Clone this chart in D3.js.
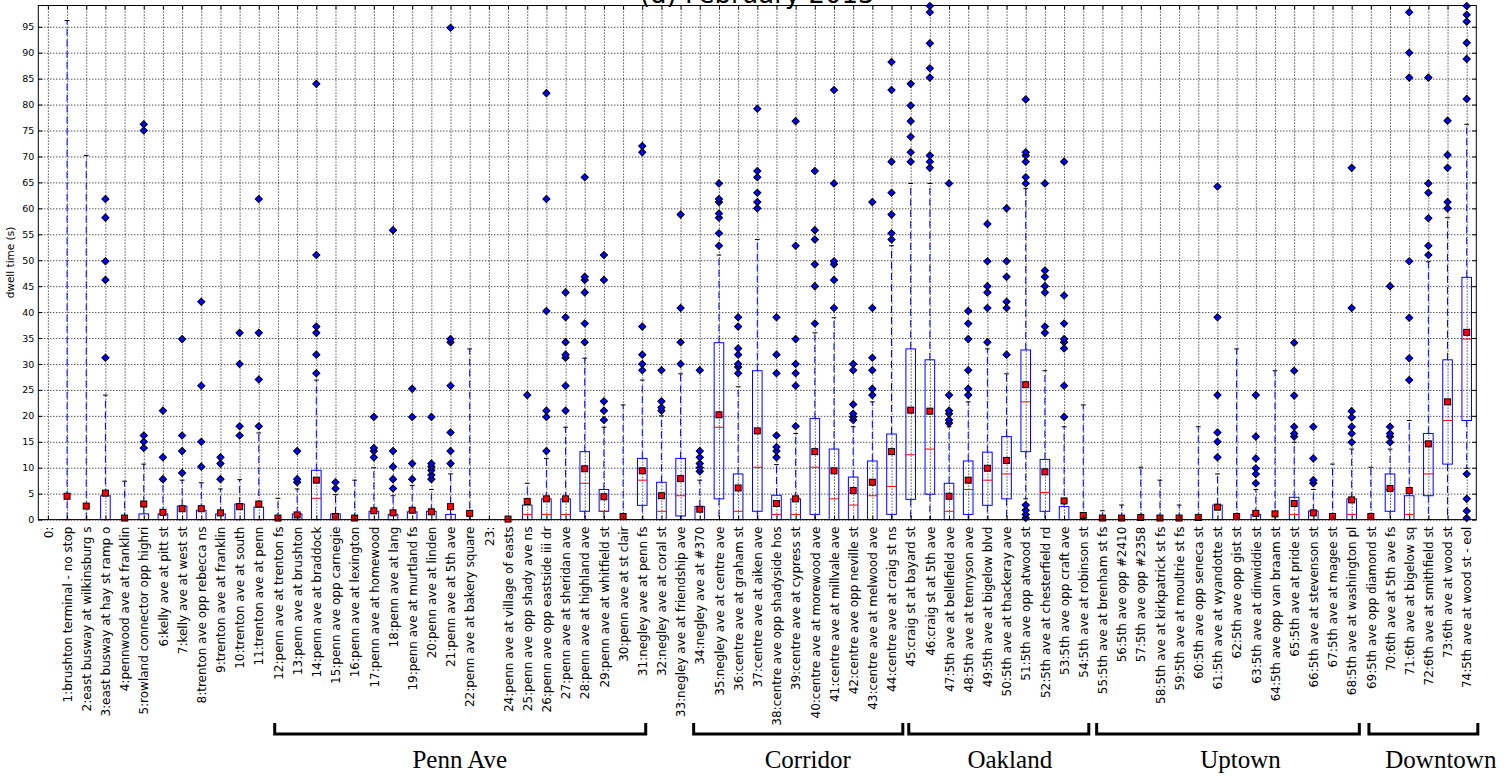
<!DOCTYPE html>
<html>
<head>
<meta charset="utf-8">
<script src="https://cdn.jsdelivr.net/npm/d3@7"></script>
<style>
body { margin: 0; background: #fff; }
text { font-family: "DejaVu Sans", sans-serif; }
</style>
</head>
<body>
<div id="chart"></div>
<script>
const stopLabels = [
    "0:", "1:brushton terminal - no stop", "2:east busway at wilkinsburg s", "3:east busway at hay st ramp o",
    "4:pennwood ave at franklin", "5:rowland connector opp highri", "6:kelly ave at pitt st", "7:kelly ave at west st",
    "8:trenton ave opp rebecca ns", "9:trenton ave at franklin", "10:trenton ave at south", "11:trenton ave at penn",
    "12:penn ave at trenton fs", "13:penn ave at brushton", "14:penn ave at braddock", "15:penn ave opp carnegie",
    "16:penn ave at lexington", "17:penn ave at homewood", "18:penn ave at lang", "19:penn ave at murtland fs",
    "20:penn ave at linden", "21:penn ave at 5th ave", "22:penn ave at bakery square", "23:",
    "24:penn ave at village of easts", "25:penn ave opp shady ave ns", "26:penn ave opp eastside iii dr", "27:penn ave at sheridan ave",
    "28:penn ave at highland ave", "29:penn ave at whitfield st", "30:penn ave at st clair", "31:negley ave at penn fs",
    "32:negley ave at coral st", "33:negley ave at friendship ave", "34:negley ave at #370", "35:negley ave at centre ave",
    "36:centre ave at graham st", "37:centre ave at aiken ave", "38:centre ave opp shadyside hos", "39:centre ave at cypress st",
    "40:centre ave at morewood ave", "41:centre ave at millvale ave", "42:centre ave opp neville st", "43:centre ave at melwood ave",
    "44:centre ave at craig st ns", "45:craig st at bayard st", "46:craig st at 5th ave", "47:5th ave at bellefield ave",
    "48:5th ave at tennyson ave", "49:5th ave at bigelow blvd", "50:5th ave at thackeray ave", "51:5th ave opp atwood st",
    "52:5th ave at chesterfield rd", "53:5th ave opp craft ave", "54:5th ave at robinson st", "55:5th ave at brenham st fs",
    "56:5th ave opp #2410", "57:5th ave opp #2358", "58:5th ave at kirkpatrick st fs", "59:5th ave at moultrie st fs",
    "60:5th ave opp seneca st", "61:5th ave at wyandotte st", "62:5th ave opp gist st", "63:5th ave at dinwiddie st",
    "64:5th ave opp van braam st", "65:5th ave at pride st", "66:5th ave at stevenson st", "67:5th ave at magee st",
    "68:5th ave at washington pl", "69:5th ave opp diamond st", "70:6th ave at 5th ave fs", "71:6th ave at bigelow sq",
    "72:6th ave at smithfield st", "73:6th ave at wood st", "74:5th ave at wood st - eol"
];

// box statistics per stop (null = no data)
const q1 = [null, 0, 0, 0, 0, 0, 0, 0, 0, 0, 0, 0, 0, 0, 0, 0, 0, 0, 0, 0, 0, 0, 0, null, 0, 0, 0, 0, 1.6, 1.6,
    0, 2.75, 0, 0.7, 0, 4.0, 0, 1.6, 0, 0, 1.0, 0, 0, 0, 1.0, 3.9, 4.9, 0, 1.0, 2.75, 4.0, 13.1, 1.6, 0, 0, 0, 0, 0, 0, 0,
    0, 0, 0, 0, 0, 0, 0, 0, 0, 0, 1.6, 0, 4.6, 10.7, 19.1];
const medians = [null, 0, 0, 0, 0, 0, 0, 0, 0, 0, 0, 0, 0, 0, 4.1, 0, 0, 0, 0, 0, 0, 0, 0, null, 0, 1.0, 1.0, 1.0, 7.0, 1.6,
    0, 7.6, 1.6, 4.6, 0, 17.8, 1.6, 10.1, 1.0, 1.0, 10.1, 4.0, 2.8, 4.6, 6.4, 12.5, 13.6, 1.6, 5.8, 7.6, 8.8, 22.7, 5.2, 0, 0, 0, 0, 0, 0, 0,
    0, 0, 0, 0, 0, 1.0, 0, 0, 1.0, 0, 5.8, 1.0, 8.8, 19.1, 34.8];
const q3 = [null, 0, 0, 4.6, 0, 1.1, 1.1, 2.6, 1.8, 1.1, 3.0, 2.4, 0, 1.1, 9.5, 1.1, 0, 1.6, 1.0, 1.5, 1.6, 1.0, 0, null, 0, 2.8, 4.0, 4.0, 13.1, 5.8,
    0, 11.8, 7.2, 11.8, 2.5, 34.1, 8.8, 28.7, 4.7, 4.0, 19.5, 13.6, 8.2, 11.3, 16.5, 32.9, 30.8, 7.0, 11.3, 13.0, 16.0, 32.7, 11.6, 2.5, 0, 0, 0, 0, 0, 0,
    0, 2.8, 0, 1.0, 0, 4.3, 1.65, 0, 4.0, 0, 8.8, 4.6, 16.6, 30.8, 46.7];
const whiskLow = [null, 0, 0, 0, 0, 0, 0, 0, 0, 0, 0, 0, 0, 0, 0, 0, 0, 0, 0, 0, 0, 0, 0, null, 0, 0, 0, 0, 0, 0,
    0, 0, 0, 0, 0, 0, 0, 0, 0, 0, 0, 0, 0, 0, 0, 0, 0, 0, 0, 0, 0, 4.0, 0, 0, 0, 0, 0, 0, 0, 0,
    0, 0, 0, 0, 0, 0, 0, 0, 0, 0, 0, 0, 0, 0, 9.9];
const whiskHigh = [null, 96.2, 70.2, 24, 7.4, 10.7, 7.4, 7.6, 7.1, 5.9, 7.7, 16.7, 4.1, 5.9, 26.9, 4.8, 7.6, 10, 4.6, 6.6, 5.8, 8.8, 32.9, null, 0, 7.0, 11.8, 17.8, 31.1, 17.8,
    22.1, 26.9, 20, 28.1, 7.6, 51, 25.6, 54, 10.6, 16.6, 36, 38.9, 17.9, 22.7, 52.8, 64.8, 64.8, 17.9, 22.7, 32.9, 28.1, 63.8, 28.7, 17.9, 22.1, 1.7, 2.8, 10.1, 7.6, 2.8,
    17.9, 8.8, 32.9, 5.8, 28.7, 14.9, 5.8, 10.7, 13.6, 10.1, 13.6, 19.1, 49.7, 58.2, 76.2];
const means = [null, 4.5, 2.6, 5.1, 0.3, 3.0, 1.4, 2.1, 2.1, 1.3, 2.5, 3.0, 0.3, 0.9, 7.6, 0.6, 0.3, 1.7, 1.3, 1.8, 1.5, 2.5, 1.2, null, 0.1, 3.5, 4.0, 4.0, 9.8, 4.4,
    0.6, 9.4, 4.6, 7.9, 2.0, 20.2, 6.1, 17.1, 3.1, 4.0, 13.1, 9.4, 5.6, 7.2, 13.1, 21.1, 20.9, 4.5, 7.6, 9.9, 11.4, 26.0, 9.2, 3.6, 0.8, 0.3, 0.3, 0.4, 0.3, 0.3,
    0.4, 2.4, 0.6, 1.2, 1.1, 3.1, 1.3, 0.6, 3.8, 0.6, 6.0, 5.6, 14.6, 22.7, 36.1];
const fliers = [
    [], [], [], [31.2, 46.2, 49.8, 58.2, 61.8], [], [13.8, 15, 16.2, 75, 76.2], [7.8, 12, 21], [9, 13.2, 16.2, 34.8],
    [10.2, 15, 25.8, 42], [7.8, 10.8, 12], [16.2, 18, 30, 36], [18, 27, 36, 61.8],
    [], [7.2, 7.8, 13.2], [28.2, 31.8, 36, 37.2, 51, 84], [6, 7.2],
    [], [12, 13.2, 13.8, 19.8], [6, 7.8, 10.2, 13.2, 55.8], [7.8, 10.8, 19.8, 25.2],
    [7.8, 8.6, 9.5, 10.2, 10.8, 19.8], [10.8, 13.2, 16.8, 25.8, 34.2, 34.8, 94.8], [], [],
    [], [24], [13.2, 19.8, 21, 40.2, 61.8, 82.2], [21, 25.8, 31.2, 31.8, 34.2, 39, 43.8],
    [34.2, 37.8, 43.8, 46.2, 46.8, 66], [19.2, 21, 22.8, 46.2, 51], [], [28.8, 30, 31.8, 37.2, 70.8, 72],
    [21, 21.6, 22.8, 28.8], [30, 34.2, 40.8, 58.8], [9.3, 10, 10.8, 12, 13.2, 28.8], [52.8, 55.2, 58.2, 59, 61.2, 61.8, 64.8],
    [28.2, 29.4, 30, 31.8, 33, 37.2, 39], [60, 61.2, 63, 66, 67.2, 79.2], [12, 13.2, 14, 16.2, 28.2, 31.8, 39], [18, 25.8, 28.2, 30, 34.8, 52.8, 76.8],
    [37.8, 45, 49.2, 54, 55.8, 67.2], [40.8, 46.2, 49.2, 49.8, 64.8, 82.8], [19.2, 19.8, 20.4, 22.2, 28.8, 30], [24, 25.2, 28.8, 31.2, 40.8, 61.2],
    [54, 55.2, 58.8, 63, 69, 82.8, 88.2], [69, 70.8, 73.8, 76.8, 79.8, 84], [67.8, 69, 70.2, 85.2, 87, 91.8, 97.8, 99], [18.6, 19.2, 20.4, 21, 24, 64.8],
    [24, 25.2, 28.8, 34.8, 37.8, 40.2], [34.2, 40.8, 43.8, 45, 49.8, 57], [31.8, 40.8, 42, 46.8, 49.8, 60], [0.3, 1.0, 1.8, 2.8, 64.8, 66, 69, 70.2, 70.8, 81],
    [36, 37.2, 43.8, 45, 46.8, 48, 64.8], [19.8, 25.8, 33, 34.2, 34.8, 37.8, 43.2, 69], [], [],
    [], [], [], [],
    [], [12, 15, 16.8, 24, 39, 64.2], [], [7, 8.8, 9.9, 11.8, 16, 24],
    [], [16, 16.6, 17.9, 23.9, 28.7, 34.1], [7.0, 7.6, 11.8, 17.9], [],
    [14.9, 16.6, 17.9, 19.7, 20.9, 40.8, 67.8], [], [14.9, 16, 16.6, 17.9, 45], [26.9, 31.1, 38.9, 49.8, 85.2, 90, 97.8],
    [51, 52.8, 58.1, 63, 64.8, 85.2], [60, 61.2, 67.8, 70.3, 76.9], [0.3, 1.65, 4.0, 8.8, 81.1, 88.8, 91.9, 96, 97.3, 99]
];

const yTicks = d3.range(0, 100, 5);

// route sections drawn as brackets under the labels (in stop index units)
const groupNames = ["Penn Ave", "Corridor", "Oakland", "Uptown", "Downtown"];
const groupStart = [11.83, 33.68, 44.9, 54.7, 68.9];
const groupEnd = [31.18, 44.59, 54.29, 68.4, 74.58];
const groupLabelAt = [21.48, 39.63, 50.17, 62.2, 72.65];

const W = 1510, H = 778;
const margin = { top: 5.5, right: 33.7, bottom: 258.4, left: 38.3 };
const width = W - margin.left - margin.right;
const height = H - margin.top - margin.bottom;

const svgRoot = d3.select("#chart").append("svg")
    .attr("width", W)
    .attr("height", H);

const svg = svgRoot.append("g")
    .attr("transform", `translate(${margin.left},${margin.top})`);

const x = d3.scaleLinear().domain([-0.5, 74.5]).range([0, width]);
const y = d3.scaleLinear().domain([0, 99.1]).range([height, 0]);
const step = x(1) - x(0);
const boxW = step * 0.5;
const capW = step * 0.25;

// dotted grid
svg.append("g")
    .attr("class", "grid horizontal")
    .call(d3.axisLeft(y).tickValues(yTicks).tickSize(-width).tickFormat(""))
    .call(g => g.select(".domain").remove())
    .selectAll("line")
    .style("stroke", "#000")
    .style("stroke-width", 1)
    .style("stroke-dasharray", "1,2");

svg.append("g")
    .attr("class", "grid vertical")
    .attr("transform", `translate(0, ${height})`)
    .call(d3.axisBottom(x).tickValues(d3.range(75)).tickSize(-height).tickFormat(""))
    .call(g => g.select(".domain").remove())
    .selectAll("line")
    .style("stroke", "#000")
    .style("stroke-width", 1)
    .style("stroke-dasharray", "1,2");

const stops = stopLabels.map((label, i) => ({
    i, label,
    q1: q1[i], med: medians[i], q3: q3[i],
    lo: whiskLow[i], hi: whiskHigh[i],
    mean: means[i], fliers: fliers[i]
})).filter(d => d.q1 !== null);

const box = svg.selectAll(".stop")
    .data(stops)
    .enter()
    .append("g")
    .attr("class", "stop")
    .attr("transform", d => `translate(${x(d.i)},0)`);

// whiskers
box.append("line")
    .attr("y1", d => y(d.q3)).attr("y2", d => y(d.hi))
    .attr("stroke", "#0000ff").attr("stroke-dasharray", "7,4");
box.append("line")
    .attr("y1", d => y(d.q1)).attr("y2", d => y(d.lo))
    .attr("stroke", "#0000ff").attr("stroke-dasharray", "7,4");

// caps
box.append("line")
    .attr("x1", -capW / 2).attr("x2", capW / 2)
    .attr("y1", d => y(d.hi)).attr("y2", d => y(d.hi))
    .attr("stroke", "#000");
box.append("line")
    .attr("x1", -capW / 2).attr("x2", capW / 2)
    .attr("y1", d => y(d.lo)).attr("y2", d => y(d.lo))
    .attr("stroke", "#000");

// boxes
box.append("rect")
    .attr("x", -boxW / 2)
    .attr("width", boxW)
    .attr("y", d => y(d.q3))
    .attr("height", d => y(d.q1) - y(d.q3))
    .attr("fill", "none")
    .attr("stroke", "#0000ff");

// medians
box.append("line")
    .attr("x1", -boxW / 2).attr("x2", boxW / 2)
    .attr("y1", d => y(d.med)).attr("y2", d => y(d.med))
    .attr("stroke", "#ff0000");

// outliers
const diamond = d3.symbol().type(d3.symbolSquare).size(26);
box.selectAll(".flier")
    .data(d => d.fliers)
    .enter()
    .append("path")
    .attr("class", "flier")
    .attr("d", diamond)
    .attr("transform", v => `translate(0,${y(v)}) rotate(45)`)
    .attr("fill", "#0000ff")
    .attr("stroke", "#000")
    .attr("stroke-width", 1);

// means
box.append("rect")
    .attr("x", -3).attr("y", d => y(d.mean) - 3)
    .attr("width", 6).attr("height", 6)
    .attr("fill", "#ff0000")
    .attr("stroke", "#000")
    .attr("stroke-width", 1);

// axes
const yAxis = svg.append("g")
    .call(d3.axisLeft(y).tickValues(yTicks).tickSize(-4).tickPadding(4));
yAxis.selectAll("text").style("font-size", "9.5px").attr("fill", "#000");

svg.append("g")
    .attr("transform", `translate(${width},0)`)
    .call(d3.axisRight(y).tickValues(yTicks).tickSize(-4).tickFormat(""));

svg.append("g")
    .call(d3.axisTop(x).tickValues(d3.range(75)).tickSize(-4).tickFormat(""));

const xAxis = svg.append("g")
    .attr("transform", `translate(0,${height})`)
    .call(d3.axisBottom(x).tickValues(d3.range(75)).tickSize(-4).tickFormat(i => stopLabels[i]));
xAxis.selectAll("text")
    .attr("transform", "rotate(-90)")
    .attr("text-anchor", "end")
    .attr("x", -7)
    .attr("y", 0)
    .attr("dy", "0.35em")
    .style("font-size", "12px")
    .attr("fill", "#000");

svg.selectAll(".domain").remove();
svg.append("rect")
    .attr("width", width)
    .attr("height", height)
    .attr("fill", "none")
    .attr("stroke", "#000")
    .attr("stroke-width", 1);

svg.append("text")
    .attr("transform", "rotate(-90)")
    .attr("x", -height / 2)
    .attr("y", -24)
    .attr("text-anchor", "middle")
    .style("font-size", "10.5px")
    .text("dwell time (s)");

svgRoot.append("text")
    .attr("x", margin.left + width / 2)
    .attr("y", 3)
    .attr("text-anchor", "middle")
    .style("font-size", "26px")
    .text("(d) February 2013");

// route section brackets
const brackets = svgRoot.append("g")
    .attr("transform", `translate(${margin.left},0)`);

groupNames.forEach((name, k) => {
    const x0 = x(groupStart[k]), x1 = x(groupEnd[k]);
    brackets.append("path")
        .attr("d", `M${x0},723 V734 H${x1} V723`)
        .attr("fill", "none")
        .attr("stroke", "#000")
        .attr("stroke-width", 3);
    brackets.append("text")
        .attr("x", x(groupLabelAt[k]))
        .attr("y", 768)
        .attr("text-anchor", "middle")
        .style("font-family", "'Liberation Serif', 'Times New Roman', serif")
        .style("font-size", "25px")
        .text(name);
});
</script>
</body>
</html>
